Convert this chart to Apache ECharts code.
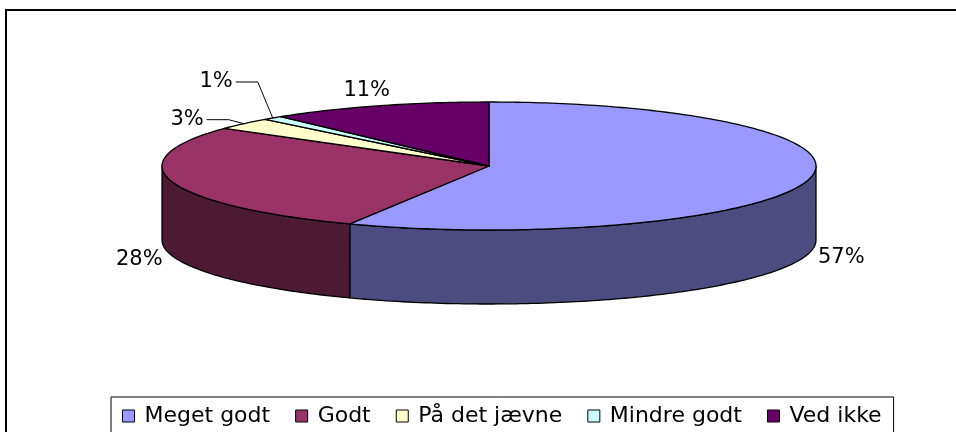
<!DOCTYPE html>
<html>
<head>
<meta charset="utf-8">
<script src="https://cdn.jsdelivr.net/npm/echarts@6/dist/echarts.min.js"></script>
<style>
  html, body { margin: 0; padding: 0; background: #fff; }
  #chart { width: 956px; height: 432px; }
</style>
</head>
<body>
<div id="chart"></div>
<script>
// data
const categories = ['Meget godt', 'Godt', 'På det jævne', 'Mindre godt', 'Ved ikke'];
const values = [57, 28, 3, 1, 11];
const valueLabels = ['57%', '28%', '3%', '1%', '11%'];

// colours (top face / side wall)
const topColors = ['#9999FF', '#993366', '#FFFFCC', '#CCFFFF', '#660066'];
const sideColors = ['#4C4C80', '#4C1A33', '#808066', '#668080', '#330033'];

// layout of the tilted pie
const PIE = { cx: 489, cy: 166, rx: 327, ry: 64, depth: 74 };
const FONT = 'DejaVu Sans';

const total = values.reduce((a, b) => a + b, 0);
const starts = values.map((v, i) => values.slice(0, i).reduce((a, b) => a + b, 0));

function edge(t, dy) {
    return [PIE.cx + PIE.rx * Math.sin(t), PIE.cy - PIE.ry * Math.cos(t) + (dy || 0)];
}

function arc(a, b, dy) {
    const pts = [];
    const n = Math.max(2, Math.ceil((b - a) / (Math.PI / 180)));
    for (let k = 0; k <= n; k++) {
        pts.push(edge(a + (b - a) * k / n, dy));
    }
    return pts;
}

function renderSlice(params, api) {
    const start = api.value(0);
    const val = api.value(1);
    const idx = api.value(2);
    const a = start / total * Math.PI * 2;
    const b = (start + val) / total * Math.PI * 2;
    const children = [];

    // outer wall, only the front half (pi/2 .. 3pi/2) is seen
    const sa = Math.max(a, Math.PI / 2);
    const sb = Math.min(b, Math.PI * 1.5);
    if (sb > sa) {
        const topArc = arc(sa, sb, 0);
        const botArc = arc(sa, sb, PIE.depth).reverse();
        children.push({
            type: 'polygon',
            z2: 1,
            shape: { points: topArc.concat(botArc) },
            style: { fill: sideColors[idx], stroke: '#000', lineWidth: 1.3, lineJoin: 'round' }
        });
    }

    // top face
    children.push({
        type: 'polygon',
        z2: 2,
        shape: { points: [[PIE.cx, PIE.cy]].concat(arc(a, b, 0)) },
        style: { fill: topColors[idx], stroke: '#000', lineWidth: 1.3, lineJoin: 'round' }
    });

    // label
    const m = (a + b) / 2;
    const s = Math.sin(m), c = Math.cos(m);
    if (val / total >= 0.05) {
        const anchor = edge(m, c < 0 ? PIE.depth : 0);
        children.push({
            type: 'text',
            z2: 3,
            x: anchor[0] + s * 34,
            y: anchor[1] - c * 16,
            style: {
                text: valueLabels[idx], fill: '#000', fontSize: 21, fontFamily: FONT,
                align: 'center', verticalAlign: 'middle'
            }
        });
    } else {
        // small slices get a leader line, stacked upwards
        let k = 0;
        for (let j = 0; j < idx; j++) if (values[j] / total < 0.05) k++;
        const dir = s < 0 ? -1 : 1;
        const anchor = edge(m, 0);
        const elbow = [anchor[0] + dir * 15, anchor[1] - 4 - 32 * k];
        const end = [elbow[0] + dir * 22, elbow[1]];
        children.push({
            type: 'polyline',
            z2: 3,
            shape: { points: [anchor, elbow, end] },
            style: { stroke: '#000', lineWidth: 1, fill: null }
        });
        children.push({
            type: 'text',
            z2: 3,
            x: end[0] + dir * 3,
            y: end[1],
            style: {
                text: valueLabels[idx], fill: '#000', fontSize: 21, fontFamily: FONT,
                align: dir < 0 ? 'right' : 'left', verticalAlign: 'middle'
            }
        });
    }

    return { type: 'group', children: children };
}

const chart = echarts.init(document.getElementById('chart'));

const option = {
    animation: false,
    backgroundColor: '#fff',
    graphic: [
        {
            type: 'rect',
            shape: { x: 6, y: 10, width: 1000, height: 500 },
            style: { fill: null, stroke: '#000', lineWidth: 2 },
            silent: true
        }
    ],
    legend: {
        left: 111,
        top: 397,
        icon: 'rect',
        itemWidth: 12,
        itemHeight: 12,
        itemGap: 25,
        padding: [8, 12, 20, 11],
        borderColor: '#000',
        borderWidth: 1,
        backgroundColor: '#fff',
        itemStyle: { borderColor: '#000', borderWidth: 1 },
        textStyle: { fontSize: 22, fontFamily: FONT, color: '#000', padding: [0, 0, 0, 5] },
        data: categories
    },
    series: categories.map((name, i) => ({
        name: name,
        type: 'custom',
        coordinateSystem: 'none',
        silent: true,
        itemStyle: { color: topColors[i] },
        renderItem: renderSlice,
        data: [[starts[i], values[i], i]]
    }))
};

chart.setOption(option);
</script>
</body>
</html>
